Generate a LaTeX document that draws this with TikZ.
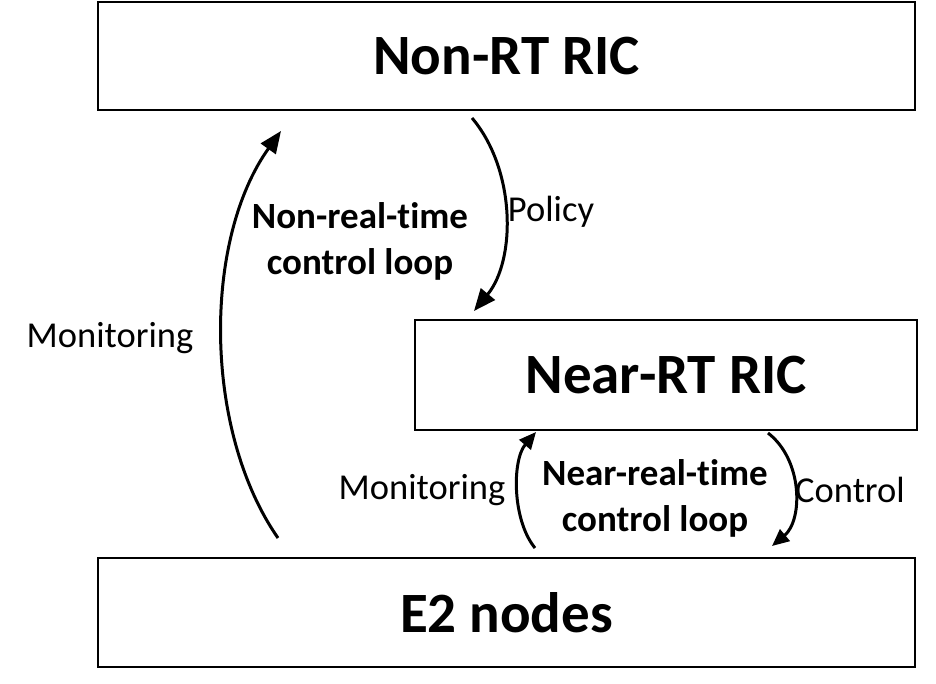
\documentclass[tikz,border=0pt]{standalone}
\usepackage{fontspec}
\setmainfont{Carlito}[Ligatures=CommonOff]
\usepackage{tikz}
\usetikzlibrary{arrows.meta,positioning}

\begin{document}
\begin{tikzpicture}[x=1pt,y=-1pt,
  ric/.style={draw=black,line width=2.5pt,fill=white,inner sep=0pt,
              minimum height=108pt,font=\fontsize{57}{60}\selectfont\bfseries},
  lbl/.style={align=center,inner sep=0pt,font=\fontsize{36.5}{44}\selectfont},
  loop/.style={align=center,inner sep=0pt,font=\fontsize{37}{46}\selectfont\bfseries},
  arr/.style={-{Triangle[length=22pt,width=18pt]},line width=3pt},
  sarr/.style={-{Triangle[length=17pt,width=15pt]},line width=3pt}]
  \useasboundingbox (0,0) rectangle (936,684);
  % controllers and nodes
  \node[ric,minimum width=817pt] (nonrt) at (506.5,56) {Non-RT RIC};
  \node[ric,minimum width=502pt,minimum height=110pt] (nearrt) at (666,375) {Near-RT RIC};
  \node[ric,minimum width=817pt,minimum height=109pt] (e2) at (506.5,612.5) {E2 nodes};
  % arrow ends
  \coordinate (mona) at (278,538);
  \coordinate (monb) at (281,131);
  \coordinate (pola) at (472,118);
  \coordinate (polb) at (474,311);
  \coordinate (nmona) at (535,548);
  \coordinate (nmonb) at (536,432);
  \coordinate (ctla) at (768,433);
  \coordinate (ctlb) at (772,546);
  % non-real-time loop
  \draw[arr] (mona) .. controls (203,430) and (203,240) .. (monb);
  \draw[arr] (pola) .. controls (516,170) and (516,260) .. (polb);
  \node[lbl] (monl) at (110,338) {Monitoring};
  \node[lbl] (poll) at (551,212) {Policy};
  \node[loop] (nrtl) at (360,241) {Non-real-time\\control loop};
  % near-real-time loop
  \draw[sarr] (nmona) .. controls (512,520) and (512,460) .. (nmonb);
  \draw[sarr] (ctla) .. controls (803,460) and (803,520) .. (ctlb);
  \node[lbl] (nmonl) at (422,490) {Monitoring};
  \node[lbl] (ctll) at (850,490) {Control};
  \node[loop] (nearl) at (655,498) {Near-real-time\\control loop};
\end{tikzpicture}
\end{document}
